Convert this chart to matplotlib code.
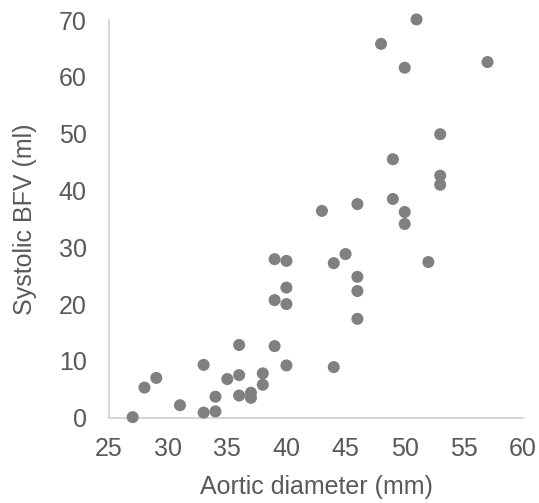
import matplotlib
matplotlib.use('Agg')
import matplotlib.pyplot as plt

# Aortic diameter (mm) vs systolic BFV (ml)
diameter = [27, 28, 29, 31, 33, 33, 34, 34, 35, 36, 36, 36, 37, 37, 38, 38,
            39, 39, 39, 40, 40, 40, 40,
            43, 44, 44, 45, 46, 46, 46, 46,
            48, 49, 49, 50, 50, 50, 51, 52, 53, 53, 53, 57]
bfv = [0.1, 5.3, 7.0, 2.2, 9.3, 0.9, 3.7, 1.1, 6.8, 12.8, 7.5, 3.9, 4.4, 3.5, 7.8, 5.8,
       27.9, 20.7, 12.6, 27.6, 22.9, 20.0, 9.2,
       36.4, 27.2, 8.9, 28.8, 37.6, 24.8, 22.3, 17.4,
       65.8, 45.5, 38.5, 61.6, 36.2, 34.1, 70.1, 27.4, 49.9, 42.6, 41.0, 62.6]

x_ticks = [25, 30, 35, 40, 45, 50, 55, 60]
y_ticks = [0, 10, 20, 30, 40, 50, 60, 70]

plt.rcParams['font.family'] = ['Liberation Sans', 'DejaVu Sans']

fig = plt.figure(figsize=(5.39, 5.03), dpi=100)
ax = fig.add_axes([109 / 539, 1 - 417.7 / 503, 414 / 539, 397.7 / 503])

ax.scatter(diameter, bfv, s=75, color='#808080', edgecolors='none', zorder=3,
           clip_on=False)

ax.set_xlim(25, 60)
ax.set_ylim(0, 70)
ax.set_xticks(x_ticks)
ax.set_yticks(y_ticks)

for side in ['top', 'right']:
    ax.spines[side].set_visible(False)
for side in ['left', 'bottom']:
    ax.spines[side].set_color('#d0d0d0')
    ax.spines[side].set_linewidth(1.2)

ax.tick_params(axis='both', length=0, labelsize=18, labelcolor='#595959')
ax.tick_params(axis='x', pad=14)
ax.tick_params(axis='y', pad=16)

ax.set_xlabel('Aortic diameter (mm)', fontsize=18, color='#595959', labelpad=10)
ax.set_ylabel('Systolic BFV (ml)', fontsize=18, color='#595959', labelpad=16)

fig.savefig('out.png', dpi=100)
plt.close(fig)
